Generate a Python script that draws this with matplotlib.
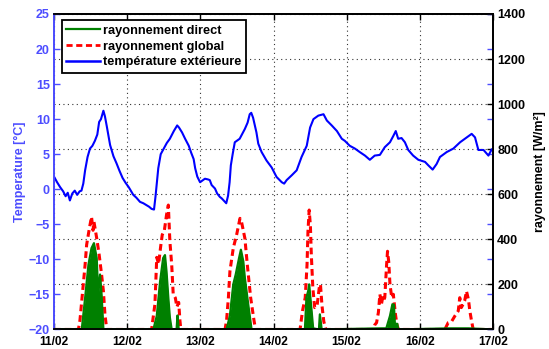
import matplotlib
matplotlib.use("Agg")
import matplotlib.pyplot as plt
from matplotlib.lines import Line2D

plt.rcParams["font.family"] = ["Liberation Sans", "DejaVu Sans"]
plt.rcParams["font.weight"] = "bold"

# heures depuis le 11/02 00:00
day_ticks = [0, 24, 48, 72, 96, 120, 144]
day_labels = ["11/02", "12/02", "13/02", "14/02", "15/02", "16/02", "17/02"]

# température extérieure [°C]
t_temp = [0, 1, 2, 3, 3.8, 4.5, 5.2, 6, 6.8, 7.6, 8.4, 9, 9.6, 10.2, 11, 11.8, 12.6,
          13.4, 14.2, 14.8, 15.4, 16.2, 16.7, 17.3, 18.4, 19.5, 20.5, 21.5, 22.5, 23.5,
          24.5, 26, 27, 28.2, 29.3, 30.4, 31.2, 32, 32.8, 33.3, 34.2, 35, 36, 37, 38,
          39.3, 40.4, 41, 42, 43, 44.2, 45, 45.8, 46.3, 47, 47.9,
          49.5, 50.5, 51.1, 51.7, 52.8, 53.5, 54.4, 55, 56.1, 56.5, 57.1, 57.6, 58,
          58.6, 59.3, 60.9, 62.6, 63.5, 64.2, 64.7, 65.3, 66.4, 67, 68.1, 69.7, 71.4,
          73, 74.7, 75.5, 76.3, 78, 79.6, 81.2, 82.9, 84, 85.1, 86.7, 88.4, 89.5,
          91.1, 92.8, 94.4, 95.4,
          97, 98.7, 100.3, 102, 103.6, 105.2, 106.9, 108.5, 110.2, 111.3, 112.1,
          112.9, 114, 115.1, 116.2, 117.8, 119.5,
          121.7, 122.8, 124.2, 125.5, 126.6, 128.8, 131, 133.2, 135.4, 137, 138.1,
          139.2, 140.9, 142.5, 143.6, 144]
temp = [1.8, 1.0, 0.3, -0.3, -1.0, -0.5, -1.6, -0.6, -0.2, -0.8, -0.3, -0.2, 0.8,
        2.7, 4.6, 5.8, 6.2, 6.9, 7.8, 9.6, 10.0, 11.2, 10.4, 9.0, 6.3, 4.7, 3.7, 2.6,
        1.6, 0.9,
        0.3, -0.8, -1.2, -1.8, -2.0, -2.3, -2.5, -2.8, -2.9, -1.0, 3.0, 5.0, 5.8, 6.6,
        7.2, 8.3, 9.1, 8.8, 8.1, 7.2, 6.2, 5.2, 4.3, 3.0, 1.8, 1.0,
        1.5, 1.4, 1.3, 0.6, 0.1, -0.6, -1.1, -1.3, -1.8, -2.0, -0.9, 1.0, 3.4, 5.0,
        6.7, 7.2, 8.6, 9.5, 10.7, 10.9, 10.2, 8.1, 6.5, 5.3, 4.1, 3.1,
        1.75, 1.0, 0.8, 1.3, 2.0, 2.7, 4.6, 6.2, 8.8, 10.0, 10.5, 10.7, 9.8, 9.1,
        8.3, 7.2, 6.9,
        6.2, 5.8, 5.3, 4.8, 4.2, 4.8, 4.9, 6.0, 6.7, 7.6, 8.3, 7.2, 7.3, 6.7, 5.6,
        4.8, 4.2,
        3.9, 3.4, 2.8, 3.6, 4.6, 5.3, 5.8, 6.7, 7.4, 7.9, 7.4, 5.6, 5.6, 4.8, 5.7,
        5.5]

# rayonnement global [W/m²]
t_glob = [0, 8, 8.5, 9.6, 10.2, 10.7, 11.6, 12.3, 12.8, 13.1, 14, 14.8, 15.6, 16.2,
          16.7, 17.3,
          32, 33.1, 33.7, 34.3, 35, 35.5, 36.2, 36.9, 37.5, 38, 38.6, 39.1, 39.8,
          40.3, 40.9, 41.3, 41.6,
          56.1, 56.6, 57.2, 57.7, 58.8, 59.9, 61, 61.5, 62.6, 63.4, 64.5, 65.6, 66.1,
          80.7, 81.5, 82.4, 83, 83.3, 83.7, 84.1, 84.4, 84.9, 85.5, 86.3, 87, 87.4,
          87.9, 88.5, 89.2,
          104.7, 105.2, 105.8, 106.4, 106.9, 107.4, 107.8, 108, 108.5, 109.1, 109.4,
          109.8, 110.2, 110.8, 111.3, 112, 112.5, 113,
          128.2, 129.3, 130.4, 131.5, 132.6, 133.1, 133.6, 134.2, 134.7, 135.3,
          135.8, 136, 136.4, 137, 137.5, 144]
glob = [0, 0, 40, 200, 288, 376, 449, 500, 440, 478, 405, 332, 244, 170, 67, 0,
        0, 112, 320, 290, 370, 420, 440, 508, 552, 392, 288, 156, 140, 100, 120, 40, 0,
        0, 40, 141, 258, 361, 420, 493, 478, 405, 288, 141, 40, 0,
        0, 82, 141, 288, 435, 530, 460, 332, 185, 97, 106, 185, 200, 106, 35, 0,
        0, 20, 30, 75, 156, 112, 141, 127, 141, 288, 347, 300, 200, 141, 156, 67, 20, 0,
        0, 30, 35, 60, 82, 141, 97, 112, 127, 170, 141, 127, 82, 35, 0, 0]

# rayonnement direct [W/m²]
t_dir = [0, 9.1, 10.2, 11.3, 12.3, 13.1, 14, 14.5, 15.1, 15.6, 16.2,
         32.6, 33.7, 34.8, 35.8, 36.4, 36.9, 37.5, 38, 38.6, 40.2, 40.5, 40.9,
         56.6, 57.7, 58.8, 59.6, 60.7, 61.3, 62.1, 62.6, 63.7, 64.8,
         82.3, 82.8, 83.4, 83.7, 84.5, 85, 86.9, 87.2, 87.8,
         107.5, 109, 110.2, 111, 111.5, 111.8, 112.6, 112.9,
         130, 136, 144]
direct = [0, 0, 140, 288, 361, 383, 317, 155, 244, 155, 0,
          0, 60, 214, 317, 330, 258, 140, 53, 0, 0, 62, 0,
          0, 62, 200, 244, 317, 354, 302, 229, 112, 0,
          0, 141, 172, 200, 82, 5, 0, 67, 0,
          5, 5, 60, 112, 110, 25, 25, 0,
          5, 5, 0]

BLUE_AX = "#4d4dff"
GREEN = "#008000"

fig = plt.figure(figsize=(5.49, 3.49), dpi=100)
ax = fig.add_axes([0.0984, 0.056, 0.7996, 0.904])
ax2 = ax.twinx()

# rayonnement (axe droit)
ax2.plot(t_glob, glob, color="red", lw=2.2, ls=(0, (2.2, 1.3)), zorder=2)
ax2.fill_between(t_dir, 0, direct, color=GREEN, lw=0, zorder=3)
ax2.plot(t_dir, direct, color=GREEN, lw=1.6, zorder=4)
ax2.set_ylim(0, 1400)
ax2.set_yticks(range(0, 1401, 200))
ax2.set_ylabel("rayonnement [W/m²]", fontsize=9, fontweight="bold", labelpad=6)

# température (axe gauche) au-dessus
ax.set_zorder(ax2.get_zorder() + 1)
ax.patch.set_visible(False)
ax.plot(t_temp, temp, color="#0000ff", lw=1.5)
ax.set_ylim(-20, 25)
ax.set_yticks(range(-20, 26, 5))
ax.set_ylabel("Temperature [°C]", color=BLUE_AX, fontsize=9, fontweight="bold",
              labelpad=2)
ax.set_xlim(0, 144)
ax.set_xticks(day_ticks)
ax.set_xticklabels(day_labels)

# grille pointillée (jours + graduations de droite)
ax2.grid(True, axis="y", ls=(0, (1, 3)), color="#333333", lw=0.8)
ax.grid(True, axis="x", ls=(0, (1, 3)), color="#333333", lw=0.8)

ax.tick_params(axis="y", direction="in", length=4, colors=BLUE_AX, right=True,
               labelsize=9, width=1, pad=3)
ax.tick_params(axis="x", direction="in", length=4, top=True, labelsize=8.6,
               width=1, pad=4.7)
ax2.tick_params(axis="y", direction="in", length=4, labelsize=9, width=1, pad=3)
for lab in ax.get_xticklabels() + ax.get_yticklabels() + ax2.get_yticklabels():
    lab.set_fontweight("bold")

for a in (ax, ax2):
    for s in a.spines.values():
        s.set_linewidth(1.3)
        s.set_color("black")
    a.spines["left"].set_color(BLUE_AX)

handles = [Line2D([], [], color=GREEN, lw=1.6),
           Line2D([], [], color="red", lw=2, ls=(0, (2.2, 1.3))),
           Line2D([], [], color="#0000ff", lw=1.8)]
labels = ["rayonnement direct", "rayonnement global", "température extérieure"]
leg = ax.legend(handles, labels, loc="upper left", bbox_to_anchor=(0.012, 0.988),
                fontsize=9.2, frameon=True, fancybox=False, framealpha=1,
                edgecolor="black", handlelength=2.6, handletextpad=0.3,
                borderpad=0.35, labelspacing=0.3, borderaxespad=0.2)
leg.get_frame().set_linewidth(1.3)
for txt in leg.get_texts():
    txt.set_fontweight("bold")

fig.savefig("out.png", dpi=100)
